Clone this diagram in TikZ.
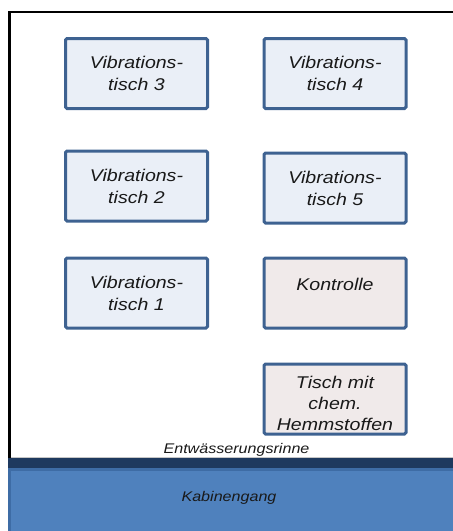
\documentclass[tikz,border=0pt]{standalone}
\usepackage{fontspec}
\setmainfont{Liberation Sans}[FakeStretch=1.15]
\definecolor{boxborder}{RGB}{62,98,145}
\definecolor{vfill}{RGB}{234,239,247}
\definecolor{kfill}{RGB}{240,234,234}
\definecolor{darkband}{RGB}{30,57,94}
\definecolor{blueband}{RGB}{79,129,189}
\definecolor{blueedge}{RGB}{62,108,165}
\definecolor{txt}{RGB}{25,25,25}
\begin{document}
\begin{tikzpicture}[x=1pt,y=-1pt,
  tablebox/.style={draw=boxborder, line width=3pt, rounded corners=1.5pt,
    minimum width=142pt, minimum height=70pt, inner sep=0pt, align=center,
    font=\fontsize{17}{22}\selectfont\itshape, text=txt},
  vtab/.style={tablebox, fill=vfill},
  ktab/.style={tablebox, fill=kfill},
  bigtext/.style={font=\fontsize{17}{21}\selectfont\itshape, inner sep=0pt, text=txt, align=center},
  lbl/.style={font=\fontsize{14}{16}\selectfont\itshape, inner sep=0pt, text=txt}]
\useasboundingbox (0,0) rectangle (453,531);
% bands
\fill[darkband] (8,458) rectangle (453,468);
\filldraw[fill=blueband, draw=blueedge, line width=3pt] (9.5,469.5) rectangle (462,540);
\draw[gray!45, line width=0.8pt] (11,457.6) -- (453,457.6);
% frame
\draw[line width=2.6pt, line join=miter] (9.5,458) -- (9.5,11.8) -- (455,11.8);
% tables
\node[vtab] (v3) at (136.5,73.5) {Vibrations-\\tisch 3};
\node[vtab] (v4) at (335,73.5) {Vibrations-\\tisch 4};
\node[vtab] (v2) at (136.5,186) {Vibrations-\\tisch 2};
\node[vtab] (v5) at (335,188) {Vibrations-\\tisch 5};
\node[vtab] (v1) at (136.5,293) {Vibrations-\\tisch 1};
\node[ktab] (k) at (335,293) {};
\node[bigtext, anchor=base] (kt) at (335,290) {Kontrolle};
\node[ktab] (t) at (335,399) {};
\node[bigtext] (tt) at (335,403) {Tisch mit\\chem.\\Hemmstoffen};
% labels
\node[lbl, anchor=base] (rinne) at (236.5,453) {Entwässerungsrinne};
\node[lbl, anchor=base] (gang) at (229,501) {Kabinengang};
\end{tikzpicture}
\end{document}
